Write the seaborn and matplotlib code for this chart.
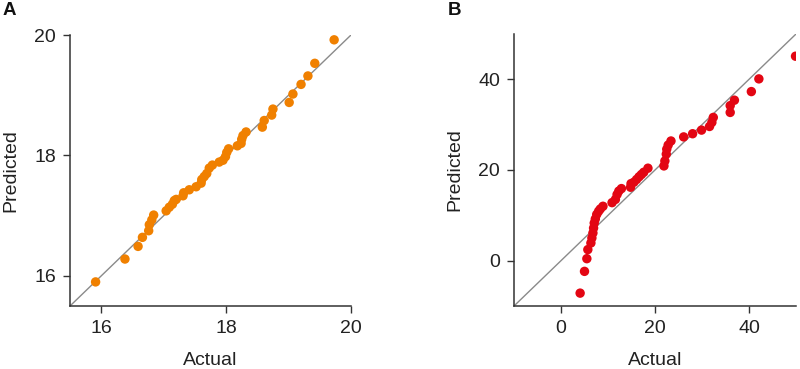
import matplotlib
matplotlib.use("Agg")
import matplotlib.pyplot as plt
import seaborn as sns
import pandas as pd

# Panel A data (Actual vs Predicted)
a_actual = [15.91, 16.38, 16.59, 16.66, 16.76, 16.77, 16.81, 16.84, 17.04, 17.09,
            17.14, 17.17, 17.20, 17.31, 17.32, 17.41, 17.52, 17.60, 17.61, 17.65,
            17.69, 17.73, 17.78, 17.89, 17.95, 17.99, 18.01, 18.04, 18.18, 18.24,
            18.25, 18.27, 18.32, 18.58, 18.61, 18.73, 18.75, 19.01, 19.07, 19.20,
            19.31, 19.42, 19.73]
a_pred = [15.90, 16.28, 16.49, 16.64, 16.75, 16.85, 16.93, 17.01, 17.08, 17.14,
          17.19, 17.25, 17.27, 17.33, 17.38, 17.43, 17.48, 17.54, 17.60, 17.65,
          17.70, 17.79, 17.84, 17.89, 17.92, 17.98, 18.05, 18.11, 18.16, 18.20,
          18.27, 18.33, 18.39, 18.47, 18.58, 18.67, 18.77, 18.88, 19.02, 19.18,
          19.32, 19.53, 19.92]

# Panel B data
b_actual = [4.07, 5.0, 5.5, 5.71, 6.36, 6.57, 6.79, 6.93, 7.07, 7.3,
            7.6, 8.0, 8.36, 8.93, 10.86, 11.57, 11.93, 12.3, 12.86, 14.8,
            14.9, 15.5, 16.07, 16.6, 17.1, 17.6, 18.5, 21.9, 22.1, 22.4,
            22.5, 22.8, 23.4, 26.1, 28.0, 29.9, 31.6, 32.1, 32.4, 36.0,
            36.0, 36.9, 40.5, 42.1, 49.9]
b_pred = [-7.16, -2.36, 0.44, 2.44, 3.9, 5.0, 6.1, 7.2, 8.3, 9.2,
          10.2, 10.9, 11.4, 12.0, 12.8, 13.5, 14.6, 15.35, 15.9, 16.2,
          17.0, 17.3, 17.9, 18.5, 19.0, 19.5, 20.4, 20.9, 22.0, 23.5,
          24.6, 25.5, 26.4, 27.3, 28.0, 28.8, 29.6, 30.5, 31.6, 32.7,
          34.2, 35.4, 37.3, 40.1, 45.1]

a_limits = (15.5, 20)
a_ticks = [16, 18, 20]
b_limits = (-10, 50)
b_ticks = [0, 20, 40]

sns.set_style("ticks")
plt.rcParams["font.family"] = ["Liberation Sans", "DejaVu Sans"]
text_color = "#222222"
spine_color = "#333333"

fig = plt.figure(figsize=(8.0, 3.69), dpi=100)
axA = fig.add_axes([70/800, 63/369, 281/800, 271/369])
axB = fig.add_axes([514/800, 63/369, 282/800, 272/369])

panels = [
    (axA, a_actual, a_pred, a_limits, a_ticks, "#F08000", "A", 3/800),
    (axB, b_actual, b_pred, b_limits, b_ticks, "#E30613", "B", 448/800),
]

for ax, xs, ys, lim, ticks, color, letter, lx in panels:
    df = pd.DataFrame({"Actual": xs, "Predicted": ys})
    ax.axline((lim[0], lim[0]), slope=1, color="#8a8a8a", lw=1.0, zorder=1)
    sns.scatterplot(data=df, x="Actual", y="Predicted", ax=ax, color=color,
                    s=46, edgecolor="none", linewidth=0, zorder=3)
    ax.set_xlim(lim)
    ax.set_ylim(lim)
    ax.set_xticks(ticks)
    ax.set_yticks(ticks)
    sns.despine(ax=ax)
    for side in ("left", "bottom"):
        ax.spines[side].set_color(spine_color)
        ax.spines[side].set_linewidth(1.1)
    ax.tick_params(axis="both", length=5, width=1.0, color=spine_color,
                   labelsize=14, labelcolor=text_color, pad=5)
    ax.set_xlabel("Actual", fontsize=14, color=text_color, labelpad=11)
    ax.set_ylabel("Predicted", fontsize=14, color=text_color, labelpad=11)
    fig.text(lx, 1 - 2/369, letter, fontsize=13.5, fontweight="bold",
             color="#111111", ha="left", va="top")

fig.savefig("out.png", dpi=100)
